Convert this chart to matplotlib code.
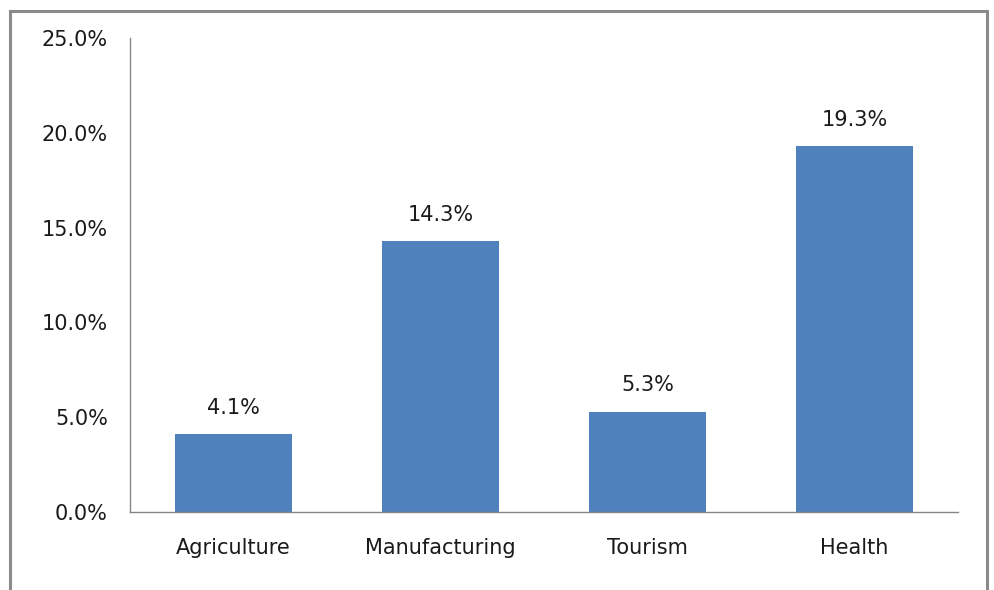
import matplotlib.pyplot as plt
from matplotlib.patches import Rectangle
from matplotlib.ticker import FuncFormatter

categories = ["Agriculture", "Manufacturing", "Tourism", "Health"]
shares = [4.1, 14.3, 5.3, 19.3]
y_ticks = [0, 5, 10, 15, 20, 25]

BAR_COLOR = "#4f81bd"
AXIS_COLOR = "#868686"
TEXT_COLOR = "#1a1a1a"

fig = plt.figure(figsize=(9.94, 5.90), dpi=100)
fig.patch.set_facecolor("white")

# Outer chart frame (open at the bottom edge)
frame = Rectangle((9.5 / 994, -0.05), (987 - 9.5) / 994, (590 - 11) / 590 + 0.05,
                  transform=fig.transFigure, fill=False,
                  edgecolor="#8a8a8a", linewidth=2.2, zorder=0)
fig.patches.append(frame)

ax = fig.add_axes([130 / 994, (590 - 512) / 590, (958 - 130) / 994, (512 - 38) / 590])

x = range(len(categories))
bars = ax.bar(x, shares, width=0.57, color=BAR_COLOR, zorder=2)

for rect, val in zip(bars, shares):
    ax.text(rect.get_x() + rect.get_width() / 2, val + 0.85, f"{val:.1f}%",
            ha="center", va="bottom", fontsize=15, color=TEXT_COLOR)

ax.set_xlim(-0.5, len(categories) - 0.5)
ax.set_ylim(0, 25)
ax.set_yticks(y_ticks)
ax.yaxis.set_major_formatter(FuncFormatter(lambda v, _: f"{v:.1f}%"))
ax.set_xticks(list(x))
ax.set_xticklabels(categories)

ax.tick_params(axis="y", length=0, pad=16, labelsize=15, labelcolor=TEXT_COLOR)
ax.tick_params(axis="x", length=0, pad=19, labelsize=15, labelcolor=TEXT_COLOR)

for side in ["top", "right"]:
    ax.spines[side].set_visible(False)
for side in ["left", "bottom"]:
    ax.spines[side].set_color(AXIS_COLOR)
    ax.spines[side].set_linewidth(1.0)

fig.savefig("out.png", dpi=100, facecolor="white")
